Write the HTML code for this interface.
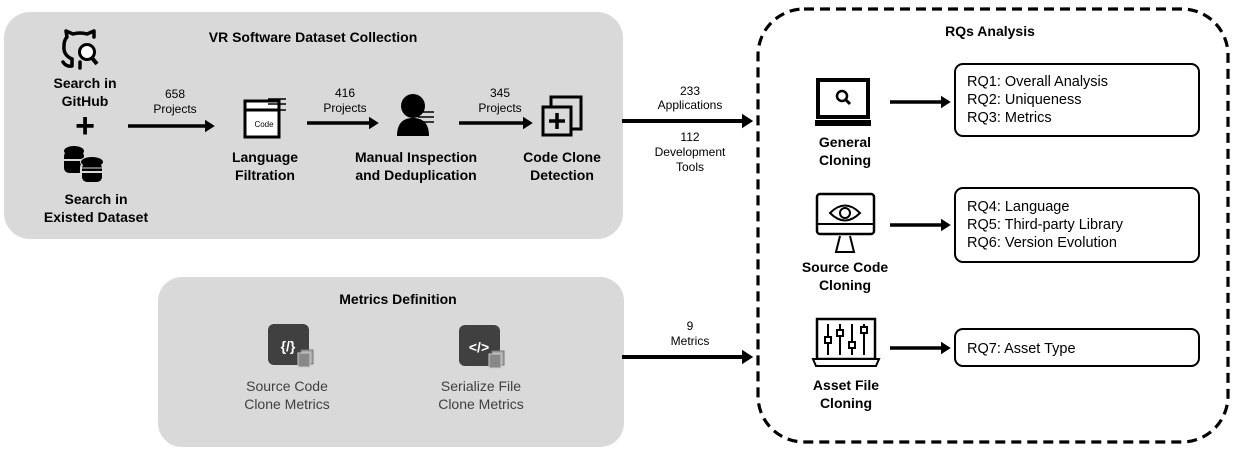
<!DOCTYPE html>
<html><head><meta charset="utf-8"><style>
html,body{margin:0;padding:0;background:#fff;}
svg{display:block;}
text{font-family:"Liberation Sans",sans-serif;fill:#000;}
.b{font-weight:bold;font-size:14px;}
.n{font-size:12px;}
.r{font-size:14.5px;}
.g{font-size:14px;fill:#404040;}
</style></head><body>
<svg width="1236" height="452" viewBox="0 0 1236 452" xmlns="http://www.w3.org/2000/svg">
<defs>
<marker id="ah" markerWidth="4" markerHeight="4" refX="2" refY="2" orient="auto" markerUnits="strokeWidth"><path d="M0,0.2 L2.8,2 L0,3.8z" fill="#000"/></marker>
</defs>
<rect x="4" y="12" width="619" height="227" rx="26" fill="#d9d9d9"/>
<rect x="158" y="277" width="466" height="170" rx="24" fill="#d9d9d9"/>
<rect x="758" y="9" width="470" height="433" rx="46" fill="none" stroke="#000" stroke-width="3.2" stroke-dasharray="10,6"/>

<text x="313" y="42" text-anchor="middle" class="b">VR Software Dataset Collection</text>
<text x="990" y="36" text-anchor="middle" class="b">RQs Analysis</text>
<text x="398" y="304" text-anchor="middle" class="b">Metrics Definition</text>

<!-- github icon -->
<g fill="none" stroke="#000" stroke-width="3.5" stroke-linejoin="round" stroke-linecap="round">
<path d="M72,59 Q63,55 64,46 Q64,40 67,37 L66,31 L73,34 Q80,32 87,34 L94,31 L94,37"/>
<path d="M72,59 L72,66 Q66,67 63,62"/>
<path d="M80,62 L80,68"/>
</g>
<circle cx="87" cy="52" r="7.5" fill="#fff" stroke="#000" stroke-width="3"/>
<line x1="92" y1="58" x2="97" y2="64" stroke="#000" stroke-width="4"/>
<text x="85" y="88" text-anchor="middle" class="b">Search in</text>
<text x="85" y="106" text-anchor="middle" class="b">GitHub</text>
<text x="85" y="137" text-anchor="middle" font-size="34" font-weight="bold">+</text>
<!-- database -->
<g>
<ellipse cx="74" cy="151" rx="10" ry="5" fill="#000"/>
<rect x="64" y="151" width="20" height="22" rx="5" fill="#000"/>
<line x1="64" y1="160" x2="84" y2="160" stroke="#d9d9d9" stroke-width="2"/>
<ellipse cx="92" cy="162" rx="11" ry="5" fill="#000" stroke="#d9d9d9" stroke-width="2"/>
<rect x="81" y="162" width="22" height="21" rx="6" fill="#000" stroke="#d9d9d9" stroke-width="2"/>
<ellipse cx="92" cy="162" rx="11" ry="5" fill="#000"/>
<line x1="82" y1="172" x2="103" y2="172" stroke="#d9d9d9" stroke-width="2"/>
<line x1="82" y1="168" x2="103" y2="168" stroke="#d9d9d9" stroke-width="1"/>
</g>
<text x="96" y="204" text-anchor="middle" class="b">Search in</text>
<text x="96" y="222" text-anchor="middle" class="b">Existed Dataset</text>

<line x1="128" y1="126" x2="212" y2="126" stroke="#000" stroke-width="3.5" marker-end="url(#ah)"/>
<text x="175" y="98" text-anchor="middle" class="n">658</text>
<text x="175" y="113" text-anchor="middle" class="n">Projects</text>
<line x1="307" y1="123" x2="376" y2="123" stroke="#000" stroke-width="3.5" marker-end="url(#ah)"/>
<text x="345" y="97" text-anchor="middle" class="n">416</text>
<text x="345" y="112" text-anchor="middle" class="n">Projects</text>
<line x1="459" y1="123" x2="530" y2="123" stroke="#000" stroke-width="3.5" marker-end="url(#ah)"/>
<text x="500" y="97" text-anchor="middle" class="n">345</text>
<text x="500" y="112" text-anchor="middle" class="n">Projects</text>

<rect x="245" y="101" width="34" height="36" fill="#fff" stroke="#000" stroke-width="3"/>
<line x1="245" y1="110" x2="279" y2="110" stroke="#000" stroke-width="3"/>
<text x="264" y="127" text-anchor="middle" font-size="8">Code</text>
<g stroke="#000" stroke-width="1.5"><line x1="268" y1="99" x2="286" y2="99"/><line x1="268" y1="104" x2="286" y2="104"/><line x1="268" y1="110" x2="286" y2="110"/></g>
<text x="265" y="162" text-anchor="middle" class="b">Language</text>
<text x="265" y="180" text-anchor="middle" class="b">Filtration</text>

<circle cx="413" cy="106" r="12" fill="#000"/>
<path d="M397,136 Q397,118 413,118 Q429,118 429,136 Z" fill="#000"/>
<g stroke="#000" stroke-width="1.5"><line x1="418" y1="112" x2="434" y2="112"/><line x1="418" y1="117" x2="434" y2="117"/><line x1="418" y1="122" x2="434" y2="122"/></g>
<text x="416" y="162" text-anchor="middle" class="b">Manual Inspection</text>
<text x="416" y="180" text-anchor="middle" class="b">and Deduplication</text>

<rect x="551" y="97" width="30" height="32" fill="none" stroke="#000" stroke-width="3"/>
<rect x="543" y="107" width="28" height="28" fill="#d9d9d9" stroke="#000" stroke-width="3"/>
<path d="M557,113 V129 M549,121 H565" stroke="#000" stroke-width="3.5"/>
<text x="562" y="162" text-anchor="middle" class="b">Code Clone</text>
<text x="562" y="180" text-anchor="middle" class="b">Detection</text>

<line x1="622" y1="121" x2="750" y2="121" stroke="#000" stroke-width="4" marker-end="url(#ah)"/>
<text x="690" y="95" text-anchor="middle" class="n">233</text>
<text x="690" y="109" text-anchor="middle" class="n">Applications</text>
<text x="690" y="141" text-anchor="middle" class="n">112</text>
<text x="690" y="156" text-anchor="middle" class="n">Development</text>
<text x="690" y="171" text-anchor="middle" class="n">Tools</text>
<line x1="622" y1="357" x2="750" y2="357" stroke="#000" stroke-width="4" marker-end="url(#ah)"/>
<text x="690" y="330" text-anchor="middle" class="n">9</text>
<text x="690" y="345" text-anchor="middle" class="n">Metrics</text>

<rect x="268" y="324" width="41" height="41" rx="6" fill="#404040"/>
<text x="288" y="351" text-anchor="middle" font-size="14" font-weight="bold" style="fill:#fff">{/}</text>
<rect x="301" y="350" width="12" height="14" fill="#aaa" stroke="#777"/>
<rect x="298" y="353" width="12" height="14" fill="#888" stroke="#ccc"/>
<text x="287" y="391" text-anchor="middle" class="g">Source Code</text>
<text x="287" y="409" text-anchor="middle" class="g">Clone Metrics</text>
<rect x="459" y="325" width="41" height="41" rx="6" fill="#404040"/>
<text x="479" y="352" text-anchor="middle" font-size="14" font-weight="bold" style="fill:#fff">&lt;/&gt;</text>
<rect x="492" y="351" width="12" height="14" fill="#aaa" stroke="#777"/>
<rect x="489" y="354" width="12" height="14" fill="#888" stroke="#ccc"/>
<text x="481" y="391" text-anchor="middle" class="g">Serialize File</text>
<text x="481" y="409" text-anchor="middle" class="g">Clone Metrics</text>

<rect x="818" y="80" width="50" height="37" fill="#fff" stroke="#000" stroke-width="4"/>
<rect x="815" y="120" width="56" height="6" fill="#000"/>
<circle cx="842" cy="96" r="5" fill="none" stroke="#000" stroke-width="2.5"/>
<line x1="846" y1="100" x2="850" y2="104" stroke="#000" stroke-width="3"/>
<text x="845" y="147" text-anchor="middle" class="b">General</text>
<text x="845" y="165" text-anchor="middle" class="b">Cloning</text>

<rect x="817" y="194" width="57" height="40" rx="3" fill="#fff" stroke="#000" stroke-width="2.5"/>
<line x1="817" y1="224" x2="874" y2="224" stroke="#000" stroke-width="2"/>
<path d="M830,213 Q845,198 860,213 Q845,228 830,213Z" fill="none" stroke="#000" stroke-width="2"/>
<circle cx="845" cy="213" r="5" fill="none" stroke="#000" stroke-width="2"/>
<path d="M840,236 L836,252 H854 L850,236" fill="#fff" stroke="#000" stroke-width="2"/>
<text x="845" y="272" text-anchor="middle" class="b">Source Code</text>
<text x="845" y="290" text-anchor="middle" class="b">Cloning</text>

<rect x="817" y="319" width="58" height="40" fill="#fff" stroke="#000" stroke-width="2.5"/>
<path d="M813,359 H879 L876,366 H816 Z" fill="#fff" stroke="#000" stroke-width="2"/>
<g stroke="#000" stroke-width="2" fill="#fff">
<line x1="828" y1="324" x2="828" y2="355"/><line x1="840" y1="324" x2="840" y2="355"/><line x1="852" y1="324" x2="852" y2="355"/><line x1="864" y1="324" x2="864" y2="355"/>
<rect x="825" y="337" width="6" height="6"/><rect x="837" y="330" width="6" height="6"/><rect x="849" y="342" width="6" height="6"/><rect x="861" y="327" width="6" height="6"/>
</g>
<text x="846" y="390" text-anchor="middle" class="b">Asset File</text>
<text x="846" y="408" text-anchor="middle" class="b">Cloning</text>

<line x1="890" y1="102" x2="948" y2="102" stroke="#000" stroke-width="3.5" marker-end="url(#ah)"/>
<line x1="890" y1="225" x2="948" y2="225" stroke="#000" stroke-width="3.5" marker-end="url(#ah)"/>
<line x1="890" y1="348" x2="948" y2="348" stroke="#000" stroke-width="3.5" marker-end="url(#ah)"/>

<rect x="955" y="64" width="244" height="72" rx="8" fill="#fff" stroke="#000" stroke-width="2"/>
<text x="967" y="86" class="r">RQ1: Overall Analysis</text>
<text x="967" y="104" class="r">RQ2: Uniqueness</text>
<text x="967" y="122" class="r">RQ3: Metrics</text>
<rect x="955" y="188" width="244" height="74" rx="8" fill="#fff" stroke="#000" stroke-width="2"/>
<text x="967" y="211" class="r">RQ4: Language</text>
<text x="967" y="229" class="r">RQ5: Third-party Library</text>
<text x="967" y="247" class="r">RQ6: Version Evolution</text>
<rect x="955" y="329" width="244" height="37" rx="8" fill="#fff" stroke="#000" stroke-width="2"/>
<text x="967" y="353" class="r">RQ7: Asset Type</text>
</svg>
</body></html>
